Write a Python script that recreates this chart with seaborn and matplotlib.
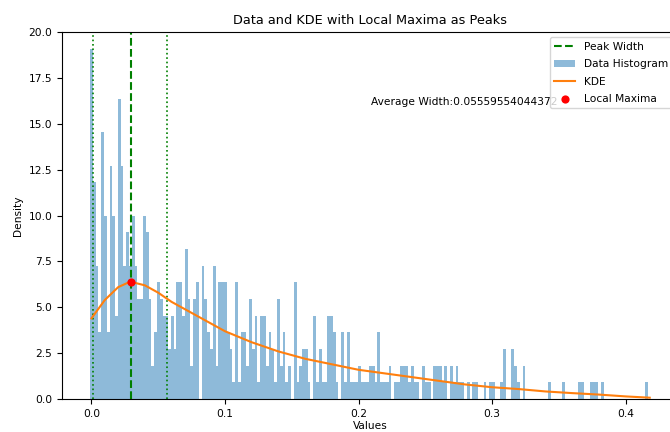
import numpy as np
import pandas as pd
import matplotlib
matplotlib.use("Agg")
import matplotlib.pyplot as plt
import seaborn as sns

# histogram: 200 bins, samples per bin
bin_lo = -0.0011
bin_hi = 0.4169
unit_density = 0.909  # bar height of one sample
bin_counts = [
    21, 13, 8, 4, 16, 11, 4, 14, 11, 5,
    18, 14, 8, 10, 8, 11, 8, 6, 6, 11,
    10, 6, 2, 4, 7, 6, 5, 5, 3, 5,
    3, 7, 7, 5, 9, 6, 2, 6, 7, 0,
    8, 6, 4, 3, 8, 2, 7, 7, 7, 4,
    3, 1, 7, 1, 4, 4, 2, 6, 3, 5,
    1, 5, 5, 2, 4, 3, 1, 6, 2, 4,
    1, 2, 0, 7, 1, 2, 3, 3, 1, 0,
    5, 1, 3, 1, 1, 5, 5, 4, 1, 0,
    4, 1, 4, 1, 1, 1, 2, 1, 1, 1,
    2, 2, 1, 4, 1, 1, 1, 2, 0, 1,
    1, 2, 2, 2, 1, 2, 1, 1, 0, 2,
    1, 1, 0, 2, 2, 2, 1, 2, 0, 2,
    1, 2, 1, 1, 0, 1, 0, 1, 1, 0,
    0, 1, 0, 1, 1, 0, 0, 1, 3, 0,
    0, 3, 2, 1, 0, 2, 0, 0, 0, 0,
    0, 0, 0, 0, 1, 0, 0, 0, 0, 1,
    0, 0, 0, 0, 0, 1, 1, 0, 0, 1,
    1, 1, 0, 1, 0, 0, 0, 0, 0, 0,
    0, 0, 0, 0, 0, 0, 0, 0, 0, 1,
]

# KDE curve samples
kde_x = [0.0, 0.01, 0.02, 0.029, 0.04, 0.05, 0.06, 0.07, 0.08, 0.09,
         0.1, 0.12, 0.14, 0.16, 0.18, 0.2, 0.22, 0.24, 0.26, 0.28,
         0.3, 0.32, 0.34, 0.36, 0.38, 0.4, 0.418]
kde_y = [4.4, 5.4, 6.1, 6.4, 6.2, 5.8, 5.3, 4.9, 4.5, 4.1,
         3.7, 3.1, 2.6, 2.2, 1.9, 1.6, 1.4, 1.2, 1.0, 0.8,
         0.65, 0.55, 0.42, 0.33, 0.25, 0.15, 0.08]

peak_x = [0.0293]
peak_y = [6.4]
width_left = 0.001
width_right = 0.0566
avg_width_text = "Average Width:0.05559554044372"

plt.rcParams["font.size"] = 7.7

n_bins = len(bin_counts)
edges = np.linspace(bin_lo, bin_hi, n_bins + 1)
hist_df = pd.DataFrame({
    "x": (edges[:-1] + edges[1:]) / 2,
    "h": np.array(bin_counts) * unit_density,
})
kde_df = pd.DataFrame({"x": kde_x, "y": kde_y})

fig = plt.figure(figsize=(6.7, 4.32), dpi=100)
ax = fig.add_axes([0.0925, 0.076, 0.919, 0.85])

ax.axvline(peak_x[0], color="green", linestyle="--", linewidth=1.5, label="Peak Width")
ax.axvline(width_left, color="green", linestyle=":", linewidth=1.2)
ax.axvline(width_right, color="green", linestyle=":", linewidth=1.2)

sns.histplot(data=hist_df, x="x", weights="h", bins=n_bins, binrange=(bin_lo, bin_hi),
             stat="count", color="#1f77b4", alpha=0.5, edgecolor="none", linewidth=0,
             label="Data Histogram", ax=ax)
sns.lineplot(data=kde_df, x="x", y="y", color="#ff7f0e", linewidth=1.5,
             label="KDE", ax=ax)
sns.scatterplot(x=peak_x, y=peak_y, color="red", s=35, linewidth=0,
                label="Local Maxima", zorder=5, ax=ax)

ax.text(0.209, 16.2, avg_width_text, va="center", ha="left")

ax.set_ylim(0, 20)
ax.set_title("Data and KDE with Local Maxima as Peaks")
ax.set_xlabel("Values", labelpad=1.5)
ax.set_ylabel("Density")

handles, labels = ax.get_legend_handles_labels()
order = ["Peak Width", "Data Histogram", "KDE", "Local Maxima"]
hmap = dict(zip(labels, handles))
ax.legend([hmap[k] for k in order], order, loc="upper right", labelspacing=0.7)

fig.savefig("out.png", dpi=100)
